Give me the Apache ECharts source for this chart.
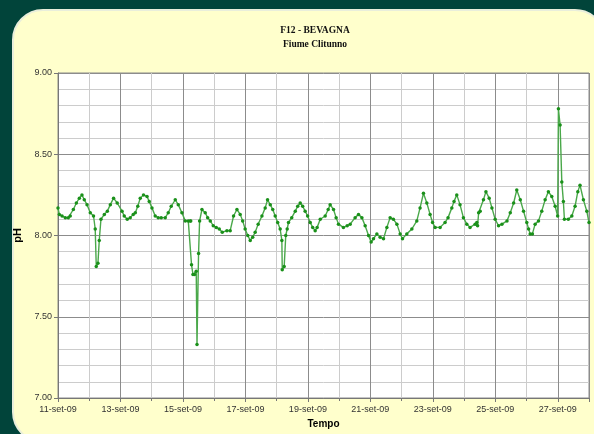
<!DOCTYPE html>
<html><head><meta charset="utf-8">
<script src="https://cdn.jsdelivr.net/npm/echarts@6/dist/echarts.min.js"></script>
<style>html,body{margin:0;padding:0;background:#01443a}#c{width:594px;height:434px}</style>
</head><body><div id="c"></div>
<script>
// hours since 11-set-09 00:00
const hours = [0,1.0,3.1,5.6,7.9,9.4,11.8,14.1,16.4,18.4,
20.2,22.3,24.8,27.3,28.6,29.4,30.7,31.7,33.0,35.6,
37.9,40.2,42.7,45.5,49.2,50.9,53.2,55.5,57.8,59.4,
61.3,63.2,65.7,68.4,70.1,72.2,74.7,77.0,79.3,82.4,
84.7,87.0,90.1,92.4,95.2,97.8,100.1,101.6,102.0,102.6,
103.7,104.9,106.2,106.8,108.0,108.8,110.6,113.1,115.0,117.0,
119.3,121.6,123.9,126.2,129.8,132.3,134.9,137.5,140.0,141.9,
143.8,145.8,147.7,149.6,151.5,153.8,156.7,159.2,161.0,163.1,
165.0,166.9,168.8,170.7,172.0,172.3,173.8,175.0,176.1,177.1,
179.6,182.3,184.2,186.1,188.0,189.9,191.8,193.8,195.7,197.6,
199.1,201.5,205.3,207.6,209.1,211.7,213.7,215.5,219.3,222.2,
224.5,228.3,230.9,233.5,236.0,238.6,240.6,242.4,245.0,247.5,
250.1,252.7,255.2,257.7,260.4,262.9,264.7,268.0,271.9,275.7,
278.2,280.8,283.4,285.9,287.8,289.8,293.6,297.4,299.7,302.6,
304.3,306.4,308.9,311.5,314.1,316.6,320.5,321.8,322.4,323.2,
324.4,326.9,328.8,331.3,333.4,335.9,338.5,341.1,345.0,347.5,
350.1,352.5,355.2,357.7,360.2,361.6,362.8,364.5,366.6,369.2,
371.7,374.3,376.8,379.4,382.0,383.9,384.5,385.8,387.1,388.3,
389.1,392.1,394.8,397.3,399.4,401.1,403.7,406.3,408.0];
const phValues = [8.17,8.13,8.12,8.11,8.11,8.12,8.16,8.20,8.23,8.25,
8.22,8.19,8.14,8.12,8.04,7.81,7.83,7.97,8.10,8.13,
8.15,8.19,8.23,8.20,8.15,8.12,8.10,8.11,8.13,8.14,
8.18,8.23,8.25,8.24,8.21,8.17,8.12,8.11,8.11,8.11,
8.14,8.18,8.22,8.19,8.14,8.09,8.09,8.09,8.09,7.82,
7.76,7.76,7.78,7.33,7.89,8.09,8.16,8.14,8.11,8.09,
8.06,8.05,8.04,8.02,8.03,8.03,8.12,8.16,8.13,8.09,
8.04,8.00,7.97,7.99,8.02,8.07,8.12,8.17,8.22,8.19,
8.16,8.12,8.08,8.04,7.97,7.79,7.81,8.00,8.04,8.08,
8.11,8.15,8.18,8.20,8.18,8.15,8.12,8.08,8.05,8.03,
8.05,8.10,8.12,8.16,8.19,8.16,8.11,8.07,8.05,8.06,
8.07,8.11,8.13,8.11,8.06,8.00,7.96,7.98,8.01,7.99,
7.98,8.05,8.11,8.10,8.07,8.01,7.98,8.01,8.04,8.09,
8.17,8.26,8.20,8.13,8.08,8.05,8.05,8.08,8.11,8.17,
8.21,8.25,8.19,8.11,8.07,8.05,8.07,8.08,8.06,8.14,
8.15,8.22,8.27,8.23,8.17,8.10,8.06,8.07,8.09,8.14,
8.20,8.28,8.22,8.15,8.08,8.04,8.01,8.01,8.07,8.09,
8.15,8.22,8.27,8.24,8.18,8.12,8.78,8.68,8.33,8.21,
8.10,8.10,8.12,8.18,8.27,8.31,8.22,8.15,8.08];
const xLabels = ['11-set-09','13-set-09','15-set-09','17-set-09','19-set-09','21-set-09','23-set-09','25-set-09','27-set-09'];
const yLabels = ['7.00','7.50','8.00','8.50','9.00'];
const titleText = 'F12 - BEVAGNA';
const subtitleText = 'Fiume Clitunno';

const data = hours.map((h, i) => [h, phValues[i]]);
const chart = echarts.init(document.getElementById('c'));
chart.setOption({
  animation: false,
  backgroundColor: '#01443a',
  graphic: [
    {type: 'rect', z: -100, shape: {x: 13, y: 10, width: 592, height: 432, r: 30},
     style: {fill: '#ffffcc', stroke: '#e9eedb', lineWidth: 2}},
    {type: 'text', x: 315, y: 31, z: 10,
     style: {text: titleText, align: 'center', verticalAlign: 'middle', textAlign: 'center', textVerticalAlign: 'middle',
             fontFamily: 'Liberation Serif', fontWeight: 'bold', fontSize: 9.5, fill: '#111'}},
    {type: 'text', x: 315, y: 45, z: 10,
     style: {text: subtitleText, align: 'center', verticalAlign: 'middle', textAlign: 'center', textVerticalAlign: 'middle',
             fontFamily: 'Liberation Serif', fontWeight: 'bold', fontSize: 9.5, fill: '#111'}}
  ],
  grid: {left: 58, top: 73, width: 531, height: 326, show: true, backgroundColor: '#ffffff', borderColor: '#8a8a8a', borderWidth: 1},
  xAxis: {
    type: 'value', min: 0, max: 408, interval: 48,
    axisLine: {show: true, lineStyle: {color: '#777', width: 1}},
    axisTick: {show: true, length: 4, lineStyle: {color: '#777'}},
    minorTick: {show: true, splitNumber: 2, length: 3, lineStyle: {color: '#777'}},
    splitLine: {show: true, lineStyle: {color: '#8c8c8c', width: 1}},
    minorSplitLine: {show: true, lineStyle: {color: '#cccccc', width: 1}},
    axisLabel: {
      margin: 7, fontSize: 9, color: '#333', fontFamily: 'Liberation Sans',
      formatter: v => (v % 48 === 0 && xLabels[v / 48]) ? xLabels[v / 48] : ''
    },
    name: 'Tempo', nameLocation: 'middle', nameGap: 21,
    nameTextStyle: {fontWeight: 'bold', fontSize: 10, color: '#000', fontFamily: 'Liberation Sans'}
  },
  yAxis: {
    type: 'value', min: 7, max: 9, interval: 0.5,
    axisLine: {show: true, lineStyle: {color: '#777', width: 1}},
    axisTick: {show: true, length: 4, lineStyle: {color: '#777'}},
    minorTick: {show: false, splitNumber: 5},
    splitLine: {show: true, lineStyle: {color: '#8c8c8c', width: 1}},
    minorSplitLine: {show: true, lineStyle: {color: '#cccccc', width: 1}},
    axisLabel: {
      margin: 6, fontSize: 9, color: '#333', fontFamily: 'Liberation Sans',
      formatter: v => yLabels[Math.round((v - 7) / 0.5)] || ''
    },
    name: 'pH', nameLocation: 'middle', nameGap: 22, nameRotate: 90,
    nameTextStyle: {fontWeight: 'bold', fontSize: 11, color: '#000', fontFamily: 'Liberation Sans'}
  },
  series: [{
    type: 'line', data: data,
    symbol: 'circle', symbolSize: 3.5, showSymbol: true,
    itemStyle: {color: '#1a901a'},
    lineStyle: {color: '#4aa84a', width: 1.4},
    clip: true
  }]
});
</script>
</body></html>
